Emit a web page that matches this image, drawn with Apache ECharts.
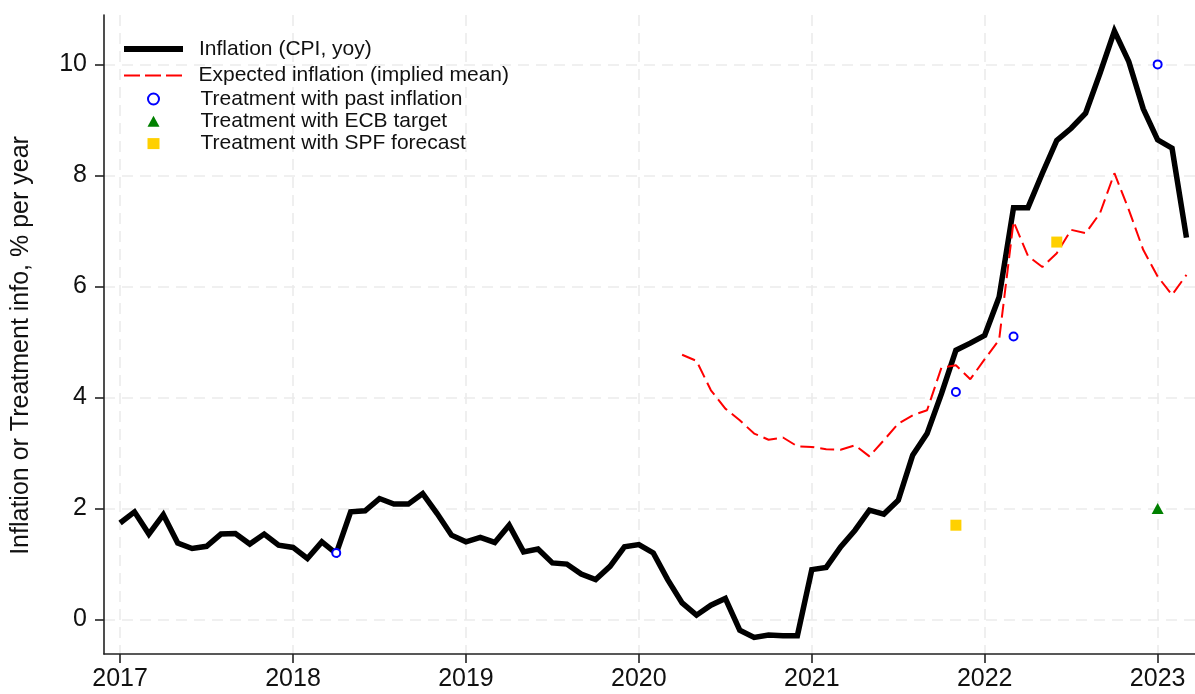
<!DOCTYPE html>
<html>
<head>
<meta charset="utf-8">
<script src="https://cdn.jsdelivr.net/npm/echarts@6/dist/echarts.min.js"></script>
<style>
html,body{margin:0;padding:0;background:#fff;}
#chart{width:1195px;height:694px;}
</style>
</head>
<body>
<div id="chart"></div>
<script>
// ---- data ----
const cpiStart = [2017, 1]; // year, month of first CPI observation
const cpi = [
  1.74, 1.94, 1.54, 1.89, 1.38, 1.28, 1.32, 1.54, 1.55, 1.36, 1.54, 1.34,
  1.30, 1.10, 1.40, 1.19, 1.94, 1.96, 2.18, 2.08, 2.08, 2.27, 1.91, 1.52,
  1.40, 1.48, 1.39, 1.70, 1.22, 1.27, 1.02, 1.00, 0.82, 0.72, 0.96, 1.31,
  1.35, 1.20, 0.72, 0.30, 0.08, 0.26, 0.38, -0.19, -0.32, -0.28, -0.29, -0.29,
  0.90, 0.94, 1.31, 1.61, 1.97, 1.90, 2.15, 2.96, 3.35, 4.07, 4.85, 4.98,
  5.12, 5.81, 7.42, 7.42, 8.04, 8.63, 8.85, 9.12, 9.84, 10.60, 10.05, 9.20,
  8.64, 8.49, 6.88
];
const expStart = [2020, 4];
const expected = [
  4.77, 4.66, 4.13, 3.80, 3.59, 3.35, 3.24, 3.28, 3.12,
  3.11, 3.07, 3.06, 3.14, 2.94, 3.23, 3.53, 3.68, 3.77, 4.54, 4.58, 4.33,
  4.69, 5.04, 7.17, 6.55, 6.35, 6.60, 7.02, 6.96, 7.32, 8.04, 7.38, 6.66,
  6.18, 5.85, 6.21
];
const pastDates = ['2018-04', '2021-11', '2022-03', '2023-01'];
const pastValues = [1.2, 4.1, 5.1, 10.0];
const ecbDates = ['2023-01'];
const ecbValues = [2.0];
const spfDates = ['2021-11', '2022-06'];
const spfValues = [1.7, 6.8];
const xTicks = [2017, 2018, 2019, 2020, 2021, 2022, 2023];
const yTicks = [0, 2, 4, 6, 8, 10];
const names = [
  'Inflation (CPI, yoy)',
  'Expected inflation (implied mean)',
  'Treatment with past inflation',
  'Treatment with ECB target',
  'Treatment with SPF forecast'
];

// ---- helpers ----
function monthly(start, vals) {
  return vals.map((v, i) => [start[0] + (start[1] - 1 + i) / 12, v]);
}
function dated(dates, vals) {
  return dates.map((d, i) => {
    const [y, m] = d.split('-').map(Number);
    return [y + (m - 1) / 12, vals[i]];
  });
}

const FONT = '"Liberation Sans", Arial, Helvetica, sans-serif';
const chart = echarts.init(document.getElementById('chart'), null, {renderer: 'canvas'});
const gridLine = {show: true, lineStyle: {color: '#ebebeb', width: 1.6, type: [11, 7]}};
const legendText = {fontFamily: FONT, fontSize: 21, color: '#111'};

chart.setOption({
  animation: false,
  backgroundColor: '#fff',
  textStyle: {fontFamily: FONT},
  grid: {left: 104, right: 0, top: 15, bottom: 40, containLabel: false},
  legend: [
    {
      orient: 'vertical', left: 124, top: 38.5, padding: 0, itemWidth: 59, itemHeight: 6,
      data: [{name: names[0], icon: 'rect'}],
      textStyle: Object.assign({padding: [0, 0, 0, 11]}, legendText)
    },
    {
      orient: 'vertical', left: 124, top: 65, padding: 0, itemWidth: 59, itemHeight: 2,
      data: [{name: names[1], icon: 'path://M0,0h16v2h-16z M21,0h16v2h-16z M42,0h16v2h-16z'}],
      textStyle: Object.assign({padding: [0, 0, 0, 11]}, legendText)
    },
    {
      orient: 'vertical', left: 147, top: 88.5, padding: 0, itemWidth: 12, itemHeight: 11, itemGap: 1.3,
      data: [
        {name: names[2], icon: 'circle'},
        {name: names[3], icon: 'triangle'},
        {name: names[4], icon: 'rect'}
      ],
      textStyle: Object.assign({padding: [0, 0, 0, 36]}, legendText)
    }
  ],
  xAxis: {
    type: 'value',
    min: 2016.907, max: 2023.216,
    axisLine: {onZero: false, lineStyle: {color: '#222', width: 1.6}},
    axisTick: {show: true, length: 9, customValues: xTicks, lineStyle: {color: '#222', width: 1.6}},
    axisLabel: {customValues: xTicks, margin: 13, fontSize: 25, color: '#111', fontFamily: FONT,
      formatter: v => String(Math.round(v))},
    splitLine: gridLine
  },
  yAxis: {
    type: 'value',
    min: -0.62, max: 10.89,
    name: 'Inflation or Treatment info, % per year',
    nameLocation: 'middle', nameGap: 70,
    nameTextStyle: {fontSize: 25, color: '#111', fontFamily: FONT, padding: [0, 22, 0, 0]},
    axisLine: {show: true, lineStyle: {color: '#222', width: 1.6}},
    axisTick: {show: true, length: 9, customValues: yTicks, lineStyle: {color: '#222', width: 1.6}},
    axisLabel: {customValues: yTicks, margin: 17, fontSize: 25, color: '#111', fontFamily: FONT},
    splitLine: gridLine
  },
  series: [
    {
      name: names[0], type: 'line', data: monthly(cpiStart, cpi),
      symbol: 'none', lineStyle: {color: '#000', width: 5.5, join: 'miter'},
      itemStyle: {color: '#000'}, z: 3
    },
    {
      name: names[1], type: 'line', data: monthly(expStart, expected),
      symbol: 'none', lineStyle: {color: '#ff0000', width: 2, type: [14, 6]},
      itemStyle: {color: '#ff0000'}, z: 4
    },
    {
      name: names[2], type: 'scatter', data: dated(pastDates, pastValues),
      symbol: 'circle', symbolSize: 8,
      itemStyle: {color: '#fff', borderColor: '#0000ff', borderWidth: 2, opacity: 1}, z: 5
    },
    {
      name: names[3], type: 'scatter', data: dated(ecbDates, ecbValues),
      symbol: 'triangle', symbolSize: [12, 11],
      itemStyle: {color: '#008000', opacity: 1}, z: 5
    },
    {
      name: names[4], type: 'scatter', data: dated(spfDates, spfValues),
      symbol: 'rect', symbolSize: 11,
      itemStyle: {color: '#ffd000', opacity: 1}, z: 5
    }
  ]
});
</script>
</body>
</html>
